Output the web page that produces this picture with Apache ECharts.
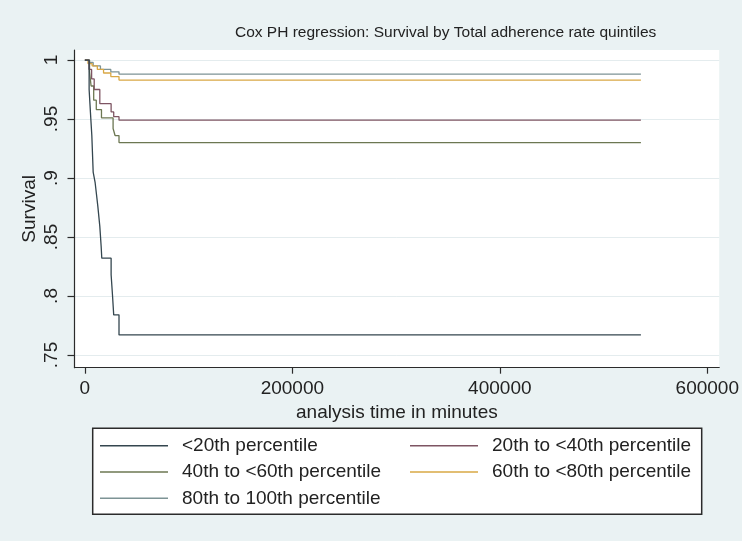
<!DOCTYPE html>
<html>
<head>
<meta charset="utf-8">
<script src="https://cdn.jsdelivr.net/npm/echarts@6/dist/echarts.min.js"></script>
<style>
html,body{margin:0;padding:0;background:#eaf2f3;}
#c{width:742px;height:541px;}
</style>
</head>
<body>
<div id="c"></div>
<script>
// ---- data (analysis time in minutes, survival) ----
const seriesNames = ['<20th percentile', '20th to <40th percentile', '40th to <60th percentile', '60th to <80th percentile', '80th to 100th percentile'];

const t1 = [0, 4100, 5400, 6700, 8000, 9900, 11200, 12500, 14400, 15700, 16300, 25300, 26600, 27800, 32900, 536000];
const s1 = [1, 0.975, 0.955, 0.936, 0.905, 0.896, 0.886, 0.876, 0.859, 0.842, 0.832, 0.818, 0.801, 0.784, 0.767, 0.767];

const t2 = [0, 4000, 6500, 9000, 14400, 25300, 27800, 32900, 536000];
const s2 = [1, 0.992, 0.984, 0.975, 0.963, 0.956, 0.952, 0.949, 0.949];

const t3 = [0, 4500, 6000, 8500, 11000, 16000, 27200, 29100, 32900, 536000];
const s3 = [1, 0.99, 0.978, 0.966, 0.958, 0.951, 0.942, 0.936, 0.930, 0.930];

const t4 = [0, 3000, 7000, 12000, 18000, 25000, 32900, 536000];
const s4 = [1, 0.997, 0.995, 0.992, 0.989, 0.986, 0.983, 0.983];

const t5 = [0, 4000, 8000, 15000, 25000, 32900, 536000];
const s5 = [1, 0.998, 0.995, 0.992, 0.990, 0.988, 0.988];

const yTicks = [0.75, 0.8, 0.85, 0.9, 0.95, 1];
const xTicks = [0, 200000, 400000, 600000];

const colors = ['#34464f', '#7e5563', '#6c7752', '#d9a845', '#7d9395'];

const times = [t1, t2, t3, t4, t5];
const survs = [s1, s2, s3, s4, s5];

const FONT = 'Liberation Sans, Arial, sans-serif';
const TXT = '#222';
const FS = 19;

const chart = echarts.init(document.getElementById('c'), null, {renderer: 'canvas'});

const series = seriesNames.map((name, i) => ({
  name: name,
  type: 'line',
  step: 'end',
  symbol: 'none',
  data: times[i].map((t, j) => [t, survs[i][j]]),
  lineStyle: {color: colors[i], width: 1.3},
  itemStyle: {color: colors[i]},
  z: 10 - i,
  animation: false
}));

const legendCommon = {
  orient: 'vertical',
  icon: 'rect',
  itemWidth: 68,
  itemHeight: 1.5,
  itemGap: 6.3,
  padding: 0,
  selectedMode: false,
  textStyle: {fontFamily: FONT, fontSize: FS, color: TXT, lineHeight: 20, padding: [0, 0, 0, 9]}
};

chart.setOption({
  backgroundColor: '#eaf2f3',
  animation: false,
  color: colors,
  title: {
    text: 'Cox PH regression: Survival by Total adherence rate quintiles',
    left: 235,
    top: 25,
    padding: 0,
    textStyle: {fontFamily: FONT, fontSize: 15.5, fontWeight: 'normal', color: TXT}
  },
  grid: {
    left: 74.5, right: 20, top: 50, bottom: 173.3,
    show: true, backgroundColor: '#ffffff', borderWidth: 0
  },
  xAxis: {
    type: 'value',
    min: -10000, max: 611500,
    name: 'analysis time in minutes',
    nameLocation: 'middle',
    nameGap: 30,
    nameTextStyle: {fontFamily: FONT, fontSize: FS, color: TXT},
    axisLine: {show: true, onZero: false, lineStyle: {color: '#2b2b2b', width: 1.2}},
    axisTick: {show: true, customValues: xTicks, length: 6, lineStyle: {color: '#2b2b2b', width: 1.2}},
    axisLabel: {customValues: xTicks, margin: 12, fontFamily: FONT, fontSize: FS, color: TXT,
      formatter: v => String(v)},
    splitLine: {show: false}
  },
  yAxis: {
    type: 'value',
    min: 0.7392, max: 1.0085,
    name: 'Survival',
    nameLocation: 'middle',
    nameRotate: 90,
    nameGap: 35,
    nameMoveOverlap: false,
    nameTextStyle: {fontFamily: FONT, fontSize: FS, color: TXT},
    axisLine: {show: true, onZero: false, lineStyle: {color: '#2b2b2b', width: 1.2}},
    axisTick: {show: true, customValues: yTicks, length: 7, lineStyle: {color: '#2b2b2b', width: 1.2}},
    axisLabel: {customValues: yTicks, rotate: 90, margin: 13, fontFamily: FONT, fontSize: FS, color: TXT,
      formatter: v => String(+v.toFixed(2)).replace(/^0/, '')},
    splitLine: {show: true, lineStyle: {color: '#e4ecee', width: 1}}
  },
  legend: [
    Object.assign({}, legendCommon, {left: 100, top: 435.7, data: [seriesNames[0], seriesNames[2], seriesNames[4]]}),
    Object.assign({}, legendCommon, {left: 410, top: 435.7, data: [seriesNames[1], seriesNames[3]]})
  ],
  graphic: [{
    type: 'rect',
    z: 0,
    shape: {x: 92.7, y: 428.3, width: 609, height: 86},
    style: {fill: '#ffffff', stroke: '#2b2b2b', lineWidth: 1.5}
  }],
  series: series
});
</script>
</body>
</html>
